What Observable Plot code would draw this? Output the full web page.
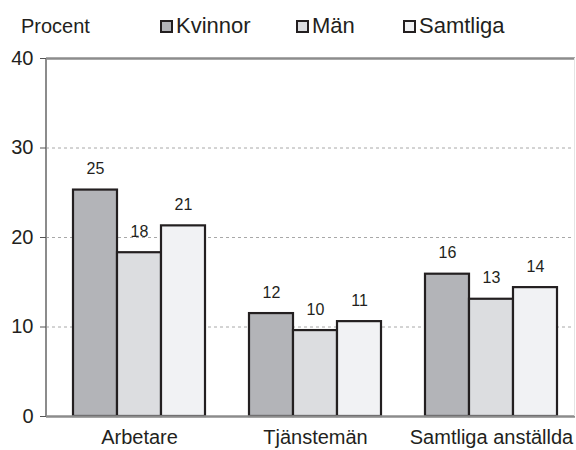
<!DOCTYPE html>
<html>
<head>
<meta charset="utf-8">
<script src="https://cdn.jsdelivr.net/npm/d3@7"></script>
<script src="https://cdn.jsdelivr.net/npm/@observablehq/plot@0.6"></script>
<style>
  body { margin: 0; background: white; font-family: "Liberation Sans", Arial, sans-serif; }
  #wrap { width: 576px; height: 450px; position: relative; overflow: hidden; }
  #legend { position: relative; height: 45px; width: 576px; color: #231f20; }
  #legend .t { position: absolute; top: 15px; line-height: 22px; white-space: nowrap; }
  #legend .sw { display: inline-block; box-sizing: border-box; width: 13px; height: 13px; border: 2px solid #231f20; margin-right: 3px; vertical-align: 0px; }
</style>
</head>
<body>
<div id="wrap">
  <div id="legend"></div>
  <div id="chart"></div>
</div>
<script>
const categories = ["Arbetare", "Tjänstemän", "Samtliga anställda"];
const seriesNames = ["Kvinnor", "Män", "Samtliga"];
const kvinnor = [25.3, 11.5, 15.9];
const man = [18.3, 9.6, 13.1];
const samtliga = [21.3, 10.6, 14.4];
const kvinnorLabels = [25, 12, 16];
const manLabels = [18, 10, 13];
const samtligaLabels = [21, 11, 14];
const yTicks = [0, 10, 20, 30, 40];
const colors = ["#b3b4b8", "#dcdde0", "#f1f2f4"];

const valuesBySeries = [kvinnor, man, samtliga];
const labelsBySeries = [kvinnorLabels, manLabels, samtligaLabels];

const data = [];
categories.forEach((c, ci) => {
  seriesNames.forEach((s, si) => {
    data.push({category: c, series: s, key: c + "|" + s, value: valuesBySeries[si][ci], label: labelsBySeries[si][ci]});
  });
});

// x domain: bars of each group, with a spacer between groups
const xDomain = [];
categories.forEach((c, ci) => {
  seriesNames.forEach(s => xDomain.push(c + "|" + s));
  if (ci < categories.length - 1) xDomain.push("gap" + ci);
});
const xTicks = categories.map(c => c + "|" + seriesNames[1]);

// Legend (HTML)
const legend = document.getElementById("legend");
const legItems = [
  {text: "Procent", left: 21, size: 20},
  {text: seriesNames[0], left: 160, size: 22, color: colors[0]},
  {text: seriesNames[1], left: 296, size: 22, color: colors[1]},
  {text: seriesNames[2], left: 403, size: 22, color: colors[2]}
];
legItems.forEach(it => {
  const span = document.createElement("span");
  span.className = "t";
  span.style.left = it.left + "px";
  span.style.fontSize = it.size + "px";
  if (it.color) {
    const sw = document.createElement("span");
    sw.className = "sw";
    sw.style.background = it.color;
    span.appendChild(sw);
  }
  span.appendChild(document.createTextNode(it.text));
  legend.appendChild(span);
});

const leftLine = (index, scales, values, dims) => {
  const d = dims || {marginLeft: 46, marginTop: 13, height: 405, marginBottom: 34};
  const g = d3.create("svg:g");
  g.append("line")
    .attr("x1", d.marginLeft).attr("x2", d.marginLeft)
    .attr("y1", d.marginTop).attr("y2", d.height - d.marginBottom)
    .attr("stroke", "#8c8c8c").attr("stroke-width", 2);
  g.append("line")
    .attr("x1", d.width - d.marginRight - 0.5).attr("x2", d.width - d.marginRight - 0.5)
    .attr("y1", d.marginTop).attr("y2", d.height - d.marginBottom)
    .attr("stroke", "#e4e4e4").attr("stroke-width", 1);
  return g.node();
};

const chart = Plot.plot({
  width: 576,
  height: 405,
  marginTop: 13,
  marginBottom: 34,
  marginLeft: 46,
  marginRight: 1,
  style: {fontFamily: "'Liberation Sans', Arial, sans-serif", background: "white", color: "#231f20", overflow: "visible"},
  x: {domain: xDomain, padding: 0, insetLeft: 27, insetRight: 18},
  y: {domain: [0, 40]},
  color: {domain: seriesNames, range: colors},
  marks: [
    Plot.ruleY(yTicks.filter(t => t > 0 && t < 40), {stroke: "#a8a8a8", strokeDasharray: "3,3", strokeWidth: 1}),
    Plot.barY(data, {x: "key", y: "value", fill: "series", stroke: "#231f20", strokeWidth: 2.2}),
    Plot.ruleY([40], {stroke: "#8c8c8c", strokeWidth: 2.5}),
    Plot.ruleY([0], {stroke: "#8c8c8c", strokeWidth: 2.5}),
    leftLine,
    Plot.text(data, {x: "key", y: "value", text: d => String(d.label), dy: -21, fontSize: 16, fill: "#231f20"}),
    Plot.axisY({ticks: yTicks, tickSize: 6, tickPadding: 7, fontSize: 20, stroke: "#555", label: null}),
    Plot.axisX({ticks: xTicks, tickFormat: k => k.split("|")[0], tickSize: 0, tickPadding: 13, fontSize: 20, label: null})
  ]
});
document.getElementById("chart").appendChild(chart);
</script>
</body>
</html>
